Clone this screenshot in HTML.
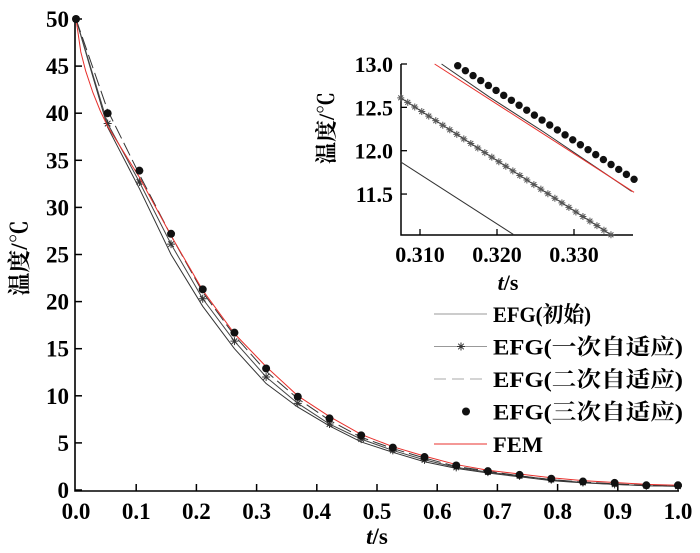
<!DOCTYPE html>
<html><head><meta charset="utf-8"><style>
body{margin:0;background:#fff}
svg{display:block;font-family:"Liberation Serif","Noto Serif CJK SC",serif}
</style></head><body>
<svg id="c" width="700" height="553" viewBox="0 0 700 553"></svg>
<script>
const tMain=[0,0.0526,0.1053,0.1579,0.2105,0.2632,0.3158,0.3684,0.4211,0.4737,0.5263,0.5789,0.6316,0.6842,0.7368,0.7895,0.8421,0.8947,0.9474,1.0];
const efgInit=[50,38.5,32.0,25.0,19.5,15.0,11.3,8.8,6.8,5.1,4.0,3.0,2.3,1.8,1.4,1.0,0.75,0.6,0.45,0.4];
const efgOne=[50,38.9,32.7,26.1,20.3,15.8,12.0,9.2,7.0,5.4,4.2,3.2,2.4,1.9,1.5,1.1,0.8,0.6,0.45,0.4];
const efgTwo=[50,40.3,33.5,27.0,21.0,16.4,12.6,9.7,7.4,5.6,4.4,3.4,2.5,2.0,1.5,1.1,0.85,0.65,0.5,0.45];
const efgThree=[50,40,33.9,27.2,21.3,16.7,12.9,9.9,7.6,5.8,4.5,3.5,2.6,2.0,1.6,1.2,0.9,0.75,0.5,0.5];
const tFem=[0,0.008,0.016,0.028,0.04,0.0526,0.1053,0.1579,0.2105,0.2632,0.3158,0.3684,0.4211,0.4737,0.5263,0.5789,0.6316,0.6842,0.7368,0.7895,0.8421,0.8947,0.9474,1.0];
const fem=[50,46.5,44.5,42.2,40.3,38.6,33.2,27.0,21.2,16.6,13.1,10.0,7.8,5.9,4.6,3.6,2.7,2.1,1.7,1.3,1.0,0.8,0.6,0.5];
const xTicks=["0.0","0.1","0.2","0.3","0.4","0.5","0.6","0.7","0.8","0.9","1.0"];
const yTicks=[0,5,10,15,20,25,30,35,40,45,50];
// inset data
const insInitT=[0.3075,0.3222];const insInitV=[11.87,11.03];
const insOneT=[0.3075,0.3348];const insOneV=[12.61,11.03];
const insTwoT=[0.3128,0.3190,0.3260,0.3330,0.3375];const insTwoV=[13.0,12.62,12.22,11.80,11.53];
const insFemT=[0.3119,0.3378];const insFemV=[13.0,11.52];
const insDotT0=0.3149, insDotV0=12.98, insDotT1=0.3378, insDotV1=11.67;
const insXTicks=["0.310","0.320","0.330"];const insYTicks=[11.5,12.0,12.5,13.0];

const NS="http://www.w3.org/2000/svg",svg=document.getElementById('c');
function el(tag,a,parent){const e=document.createElementNS(NS,tag);for(const k in a)e.setAttribute(k,a[k]);(parent||svg).appendChild(e);return e;}
const X=t=>76+t*602, Y=v=>490-v*9.42;
function poly(xs,ys,fx,fy,style){return el('polyline',Object.assign({points:xs.map((t,i)=>fx(t)+','+fy(ys[i])).join(' '),fill:'none'},style));}
function star(x,y,s,c){return el('path',{d:`M${x-s},${y}H${x+s}M${x},${y-s}V${y+s}M${x-s*0.7},${y-s*0.7}L${x+s*0.7},${y+s*0.7}M${x-s*0.7},${y+s*0.7}L${x+s*0.7},${y-s*0.7}`,stroke:c,'stroke-width':1,fill:'none'});}
// axes
let a=el('path',{d:'M75,18V491H679',stroke:'#000','stroke-width':1.6,fill:'none'});

yTicks.forEach(v=>{el('line',{x1:75,x2:82,y1:Y(v),y2:Y(v),stroke:'#000','stroke-width':1.5});
 const t=el('text',{x:69,y:Y(v)+8,'text-anchor':'end','font-size':23,'font-weight':'bold'});t.textContent=v;
 });
xTicks.forEach((s,i)=>{const x=X(i/10);if(i>0)el('line',{x1:x,x2:x,y1:491,y2:484,stroke:'#000','stroke-width':1.5});
 const t=el('text',{x:x,y:519,'text-anchor':'middle','font-size':23,'font-weight':'bold'});t.textContent=s;
 });
let yl=el('text',{x:0,y:0,transform:'translate(27,258) rotate(-90)','text-anchor':'middle','font-size':23,'font-weight':'bold'});yl.textContent='温度/℃';

let xl=el('text',{x:377,y:544,'text-anchor':'middle','font-size':23,'font-weight':'bold'});xl.innerHTML='<tspan font-style="italic">t</tspan>/s';

// series
let s1=poly(tMain,efgInit,X,Y,{stroke:'#333','stroke-width':1});
let s2=poly(tMain,efgOne,X,Y,{stroke:'#444','stroke-width':1});
tMain.forEach((t,i)=>{const m=star(X(t),Y(efgOne[i]),4,'#333');});
let s3=poly(tMain,efgTwo,X,Y,{stroke:'#333','stroke-width':1,'stroke-dasharray':'14,5'});
let s5=poly(tFem,fem,X,Y,{stroke:'#e8302c','stroke-width':1});
tMain.forEach((t,i)=>{const d=el('circle',{cx:X(t),cy:Y(efgThree[i]),r:4,fill:'#111'});});
// legend
const legNames=['EFG(初始)','EFG(一次自适应)','EFG(二次自适应)','EFG(三次自适应)','FEM'];
legNames.forEach((n,i)=>{const y=314+i*32.5;const g=el('g',{});
 
 if(i==0)el('line',{x1:434,x2:487,y1:y,y2:y,stroke:'#999'},g);
 if(i==1){el('line',{x1:434,x2:487,y1:y,y2:y,stroke:'#999'},g);g.appendChild(star(461,y,4,'#333'));}
 if(i==2)el('line',{x1:434,x2:487,y1:y,y2:y,stroke:'#aaa','stroke-dasharray':'12,6'},g);
 if(i==3)el('circle',{cx:466,cy:y,r:4,fill:'#111'},g);
 if(i==4)el('line',{x1:434,x2:487,y1:y,y2:y,stroke:'#e8302c'},g);
 const t=el('text',{x:493,y:y+8,'font-size':22,'font-weight':'bold',textLength:(i==0?98:i==4?50:190),lengthAdjust:'spacingAndGlyphs'},g);t.textContent=n;});
// inset
const IX=t=>420+(t-0.31)*7700, IY=v=>64+(13-v)*86.7;
let ia=el('path',{d:'M401,64V235H633',stroke:'#000','stroke-width':1.5,fill:'none'});
insYTicks.forEach(v=>{el('line',{x1:401,x2:407,y1:IY(v),y2:IY(v),stroke:'#000','stroke-width':1.3});
 const t=el('text',{x:393,y:IY(v)+8,'text-anchor':'end','font-size':22,'font-weight':'bold'});t.textContent=v.toFixed(1);
 });
insXTicks.forEach(s=>{const x=IX(parseFloat(s));el('line',{x1:x,x2:x,y1:235,y2:229,stroke:'#000','stroke-width':1.3});
 const t=el('text',{x:x,y:262,'text-anchor':'middle','font-size':22,'font-weight':'bold'});t.textContent=s;
 });
let iyl=el('text',{x:0,y:0,transform:'translate(334,128) rotate(-90)','text-anchor':'middle','font-size':22,'font-weight':'bold'});iyl.textContent='温度/℃';

let ixl=el('text',{x:508,y:290,'text-anchor':'middle','font-size':22,'font-weight':'bold'});ixl.innerHTML='<tspan font-style="italic">t</tspan>/s';

let i1=poly(insInitT,insInitV,IX,IY,{stroke:'#333','stroke-width':1});
let i2=poly(insOneT,insOneV,IX,IY,{stroke:'#333','stroke-width':1});
for(let k=0;k<=30;k++){const t=insOneT[0]+(insOneT[1]-insOneT[0])*k/30;const v=insOneV[0]+(insOneV[1]-insOneV[0])*k/30;
 const m=star(IX(t),IY(v),3.5,'#555');}
let i3=poly(insTwoT,insTwoV,IX,IY,{stroke:'#333','stroke-width':1});
let i5=poly(insFemT,insFemV,IX,IY,{stroke:'#e8302c','stroke-width':1});
for(let k=0;k<=23;k++){const t=insDotT0+(insDotT1-insDotT0)*k/23;const v=insDotV0+(insDotV1-insDotV0)*k/23;
 const d=el('circle',{cx:IX(t),cy:IY(v),r:3.7,fill:'#111'});}
</script>
</body></html>
